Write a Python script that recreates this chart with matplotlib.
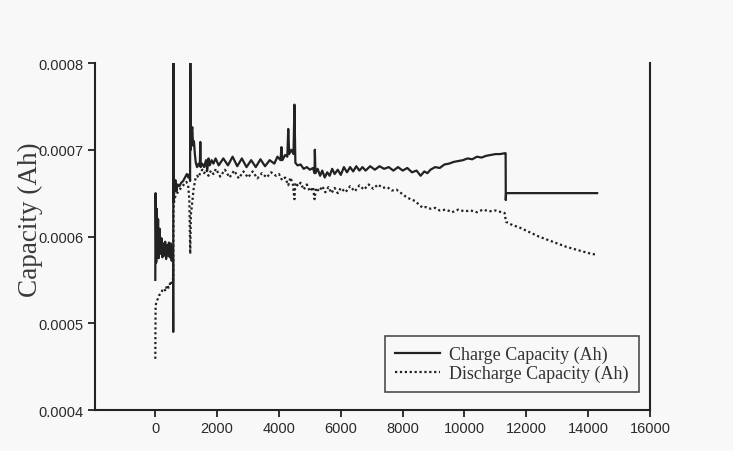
import matplotlib
matplotlib.use("Agg")
import matplotlib.pyplot as plt
from matplotlib.ticker import FormatStrFormatter


# Charge capacity (solid line)
charge_x = [0, 10, 30, 50, 70, 90, 110, 140, 170, 200, 230, 260, 290, 320, 350, 380,
            410, 440, 470, 500, 530, 560, 575, 580, 585, 590, 620, 650, 680, 720, 780,
            840, 900, 960, 1020, 1070, 1110, 1125, 1133, 1150, 1170, 1197, 1220, 1250,
            1280, 1310, 1350, 1400, 1440, 1456, 1470, 1520, 1580, 1640, 1680, 1720, 1760,
            1820, 1880, 1950, 2050, 2200, 2350, 2500, 2650, 2800, 2950, 3100, 3250, 3400,
            3550, 3700, 3850, 3950, 4050, 4080, 4110, 4200, 4270, 4300, 4330, 4400, 4470,
            4500, 4530, 4600, 4700, 4800, 4900, 5000, 5100, 5150, 5160, 5180, 5250, 5330,
            5400, 5480, 5560, 5640, 5720, 5800, 5900, 6000, 6100, 6200, 6300, 6400, 6500,
            6600, 6700, 6800, 6950, 7100, 7250, 7400, 7550, 7700, 7850, 8000, 8150, 8300,
            8450, 8580, 8700, 8800, 8900, 9050, 9200, 9350, 9500, 9650, 9800, 9950, 10100,
            10250, 10400, 10550, 10700, 10850, 11000, 11150, 11300, 11330, 11335, 11345,
            14290]
charge_y = [0.000550, 0.000650, 0.000570, 0.000632, 0.000578, 0.000620, 0.000575, 0.000609,
            0.000580, 0.000598, 0.000576, 0.000592, 0.000578, 0.000594, 0.000574, 0.000590,
            0.000578, 0.000593, 0.000576, 0.000592, 0.000572, 0.000588, 0.000572, 0.000490,
            0.000810, 0.000640, 0.000655, 0.000665, 0.000652, 0.000660, 0.000658, 0.000662,
            0.000664, 0.000668, 0.000672, 0.000668, 0.000672, 0.000664, 0.000810, 0.000700,
            0.000720, 0.000726, 0.000705, 0.000710, 0.000695, 0.000685, 0.000680, 0.000684,
            0.000681, 0.000709, 0.000680, 0.000684, 0.000680, 0.000688, 0.000676, 0.000690,
            0.000682, 0.000688, 0.000684, 0.000690, 0.000682, 0.000690, 0.000682, 0.000692,
            0.000681, 0.000690, 0.000680, 0.000688, 0.000680, 0.000689, 0.000681, 0.000688,
            0.000684, 0.000692, 0.000688, 0.000703, 0.000688, 0.000694, 0.000692, 0.000724,
            0.000695, 0.000700, 0.000695, 0.000752, 0.000685, 0.000682, 0.000683, 0.000678,
            0.000680, 0.000677, 0.000679, 0.000673, 0.000700, 0.000673, 0.000678, 0.000670,
            0.000676, 0.000668, 0.000674, 0.000670, 0.000678, 0.000672, 0.000677, 0.000671,
            0.000680, 0.000674, 0.000680, 0.000675, 0.000681, 0.000676, 0.000680, 0.000676,
            0.000681, 0.000677, 0.000681, 0.000678, 0.000680, 0.000676, 0.000680, 0.000676,
            0.000679, 0.000674, 0.000676, 0.000670, 0.000675, 0.000673, 0.000677, 0.000680,
            0.000679, 0.000683, 0.000684, 0.000686, 0.000687, 0.000688, 0.000690, 0.000689,
            0.000692, 0.000691, 0.000693, 0.000694, 0.000695, 0.000695, 0.000696, 0.000696,
            0.000642, 0.000650, 0.000650]

# Discharge capacity (dotted line)
discharge_x = [0, 10, 40, 80, 120, 170, 230, 290, 330, 380, 430, 480, 520, 560, 580, 590,
               620, 680, 740, 810, 880, 950, 1000, 1060, 1100, 1130, 1150, 1197, 1240, 1295,
               1350, 1400, 1456, 1520, 1580, 1650, 1720, 1800, 1880, 1960, 2100, 2250, 2400,
               2550, 2700, 2850, 3000, 3150, 3300, 3450, 3600, 3750, 3900, 4000, 4100, 4200,
               4300, 4370, 4450, 4500, 4530, 4620, 4700, 4800, 4900, 5000, 5100, 5150, 5200,
               5300, 5400, 5500, 5600, 5700, 5800, 5900, 6000, 6150, 6300, 6450, 6600, 6750,
               6900, 7050, 7200, 7350, 7500, 7650, 7800, 7950, 8100, 8250, 8400, 8550, 8650,
               8750, 8900, 9050, 9200, 9400, 9600, 9800, 10000, 10200, 10400, 10600, 10800,
               11000, 11200, 11300, 11340, 11500, 11800, 12100, 12400, 12700, 13000, 13300,
               13600, 13900, 14100, 14290]
discharge_y = [0.000459, 0.000520, 0.000525, 0.000528, 0.000532, 0.000534, 0.000538, 0.000540,
               0.000537, 0.000544, 0.000541, 0.000546, 0.000544, 0.000551, 0.000550, 0.000632,
               0.000644, 0.000648, 0.000652, 0.000655, 0.000658, 0.000661, 0.000663, 0.000660,
               0.000643, 0.000580, 0.000625, 0.000640, 0.000655, 0.000666, 0.000670, 0.000668,
               0.000674, 0.000677, 0.000673, 0.000677, 0.000670, 0.000676, 0.000672, 0.000678,
               0.000669, 0.000677, 0.000668, 0.000676, 0.000667, 0.000675, 0.000668, 0.000675,
               0.000667, 0.000673, 0.000668, 0.000674, 0.000670, 0.000672, 0.000665, 0.000668,
               0.000659, 0.000668, 0.000660, 0.000643, 0.000662, 0.000658, 0.000662, 0.000654,
               0.000660, 0.000652, 0.000657, 0.000643, 0.000656, 0.000652, 0.000658, 0.000651,
               0.000657, 0.000650, 0.000656, 0.000650, 0.000656, 0.000651, 0.000658, 0.000652,
               0.000659, 0.000654, 0.000660, 0.000655, 0.000660, 0.000656, 0.000657, 0.000653,
               0.000654, 0.000650, 0.000646, 0.000643, 0.000641, 0.000636, 0.000633, 0.000634,
               0.000632, 0.000633, 0.000630, 0.000631, 0.000628, 0.000631, 0.000629, 0.000630,
               0.000628, 0.000631, 0.000629, 0.000630, 0.000628, 0.000627, 0.000617, 0.000614,
               0.000610, 0.000605, 0.000600, 0.000596, 0.000592, 0.000588, 0.000585, 0.000582,
               0.000580, 0.000579]

x_ticks = [0, 2000, 4000, 6000, 8000, 10000, 12000, 14000, 16000]
y_ticks = [0.0004, 0.0005, 0.0006, 0.0007, 0.0008]

bg = "#f8f8f8"
ink = "#222222"

fig = plt.figure(figsize=(7.33, 4.52), dpi=100, facecolor=bg)
ax = fig.add_axes([0.1296, 0.0907, 0.7572, 0.7677], facecolor=bg)

ax.plot(charge_x, charge_y, color=ink, linewidth=1.6, label="Charge Capacity (Ah)")
ax.plot(discharge_x, discharge_y, color=ink, linewidth=1.6, linestyle=(0, (1, 1.2)),
        label="Discharge Capacity (Ah)")

ax.set_xlim(-1950, 16000)
ax.set_ylim(0.0004, 0.0008)
ax.set_xticks(x_ticks)
ax.set_yticks(y_ticks)
ax.yaxis.set_major_formatter(FormatStrFormatter("%.4f"))

for side in ["left", "bottom", "right"]:
    ax.spines[side].set_color(ink)
    ax.spines[side].set_linewidth(1.5)
ax.spines["top"].set_visible(False)

ax.tick_params(direction="out", length=5, width=1.3, color=ink, pad=3,
               labelsize=10.5, labelcolor="#2a2a2a")
for lbl in ax.get_xticklabels() + ax.get_yticklabels():
    lbl.set_fontfamily("Liberation Sans")

ax.set_ylabel("Capacity (Ah)", fontfamily="Liberation Serif", fontsize=19.5, color="#3a3a3a")
ax.yaxis.set_label_coords(-0.094, 0.55)

leg = ax.legend(loc="lower right", bbox_to_anchor=(0.98, 0.052), borderaxespad=0,
                prop={"family": "Liberation Serif", "size": 13},
                frameon=True, fancybox=False, handlelength=2.45, handletextpad=0.55,
                labelspacing=0.1, borderpad=0.55)
leg.get_frame().set_edgecolor(ink)
leg.get_frame().set_linewidth(1.2)
leg.get_frame().set_facecolor(bg)
for t in leg.get_texts():
    t.set_color("#333333")

plt.savefig("out.png", dpi=100, facecolor=bg)
